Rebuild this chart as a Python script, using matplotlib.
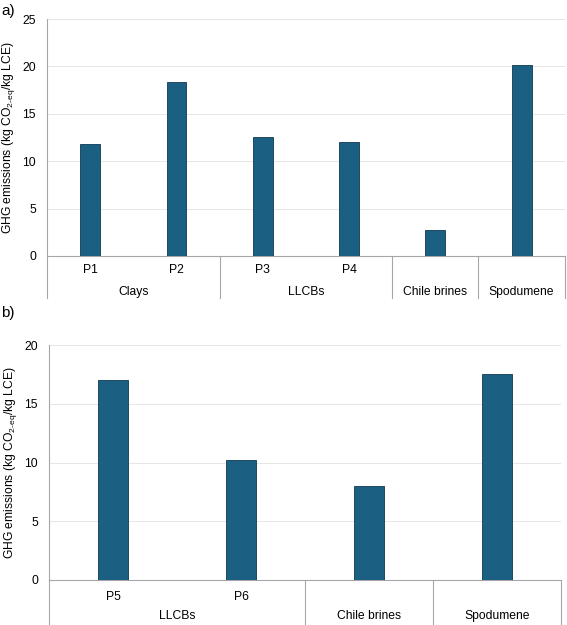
import matplotlib
matplotlib.use("Agg")
import matplotlib.pyplot as plt
import matplotlib.transforms as mtransforms
import numpy as np

plt.rcParams['font.family'] = ['Liberation Sans', 'DejaVu Sans']
plt.rcParams['mathtext.fontset'] = 'custom'
plt.rcParams['mathtext.rm'] = 'Liberation Sans'
plt.rcParams['mathtext.it'] = 'Liberation Sans'

# panel a data
a_labels = ["P1", "P2", "P3", "P4", "", ""]
a_values = [11.8, 18.4, 12.6, 12.0, 2.75, 20.2]
a_groups = ["Clays", "LLCBs", "Chile brines", "Spodumene"]
a_group_sizes = [2, 2, 1, 1]

# panel b data
b_labels = ["P5", "P6", "", ""]
b_values = [17.0, 10.2, 8.0, 17.5]
b_groups = ["LLCBs", "Chile brines", "Spodumene"]
b_group_sizes = [2, 1, 1]

bar_color = "#1b5f82"
edge_color = "#0e3a52"
grey = "#a6a6a6"
fs = 8.7


def draw_panel(ax, labels, values, groups, sizes, ymax, label_row, group_row, sep_depth):
    x = np.arange(len(values))
    ax.bar(x, values, width=0.23, color=bar_color, edgecolor=edge_color, linewidth=0.6, zorder=3)
    ax.set_xlim(-0.5, len(values) - 0.5)
    ax.set_ylim(0, ymax)
    ax.set_yticks(np.arange(0, ymax + 1, 5))
    ax.yaxis.grid(True, color="#e6e6e6", linewidth=0.7, zorder=0)
    ax.set_xticks([])
    for s in ["top", "right"]:
        ax.spines[s].set_visible(False)
    ax.spines["left"].set_color(grey)
    ax.spines["bottom"].set_color(grey)
    ax.spines["left"].set_linewidth(0.8)
    ax.spines["bottom"].set_linewidth(0.8)
    ax.tick_params(axis="y", length=0, labelsize=fs, pad=8)
    ax.set_ylabel(r"GHG emissions (kg CO$_{\mathrm{2\text{-}eq}}$/kg LCE)", fontsize=fs)

    trans = mtransforms.blended_transform_factory(ax.transData, ax.transAxes)
    for xi, lab in zip(x, labels):
        if lab:
            ax.text(xi, label_row, lab, transform=trans, ha="center", va="center", fontsize=fs)
    start = -0.5
    bounds = [start]
    for g, n in zip(groups, sizes):
        mid = start + n / 2
        ax.text(mid, group_row, g, transform=trans, ha="center", va="center", fontsize=fs)
        start += n
        bounds.append(start)
    for b in bounds:
        ax.plot([b, b], [0, sep_depth], transform=trans, color=grey, linewidth=0.8, clip_on=False)


fig = plt.figure(figsize=(5.67, 6.25), dpi=100)

ax1 = fig.add_axes([0.083, 0.5904, 0.913, 0.3792])
draw_panel(ax1, a_labels, a_values, a_groups, a_group_sizes, 25, -0.058, -0.153, -0.178)

ax2 = fig.add_axes([0.0864, 0.072, 0.903, 0.376])
draw_panel(ax2, b_labels, b_values, b_groups, b_group_sizes, 20, -0.072, -0.153, -0.19)

fig.text(0.002, 0.983, "a)", fontsize=11, va="center", ha="left")
fig.text(0.002, 0.5, "b)", fontsize=11, va="center", ha="left")

fig.savefig("out.png", dpi=100)
